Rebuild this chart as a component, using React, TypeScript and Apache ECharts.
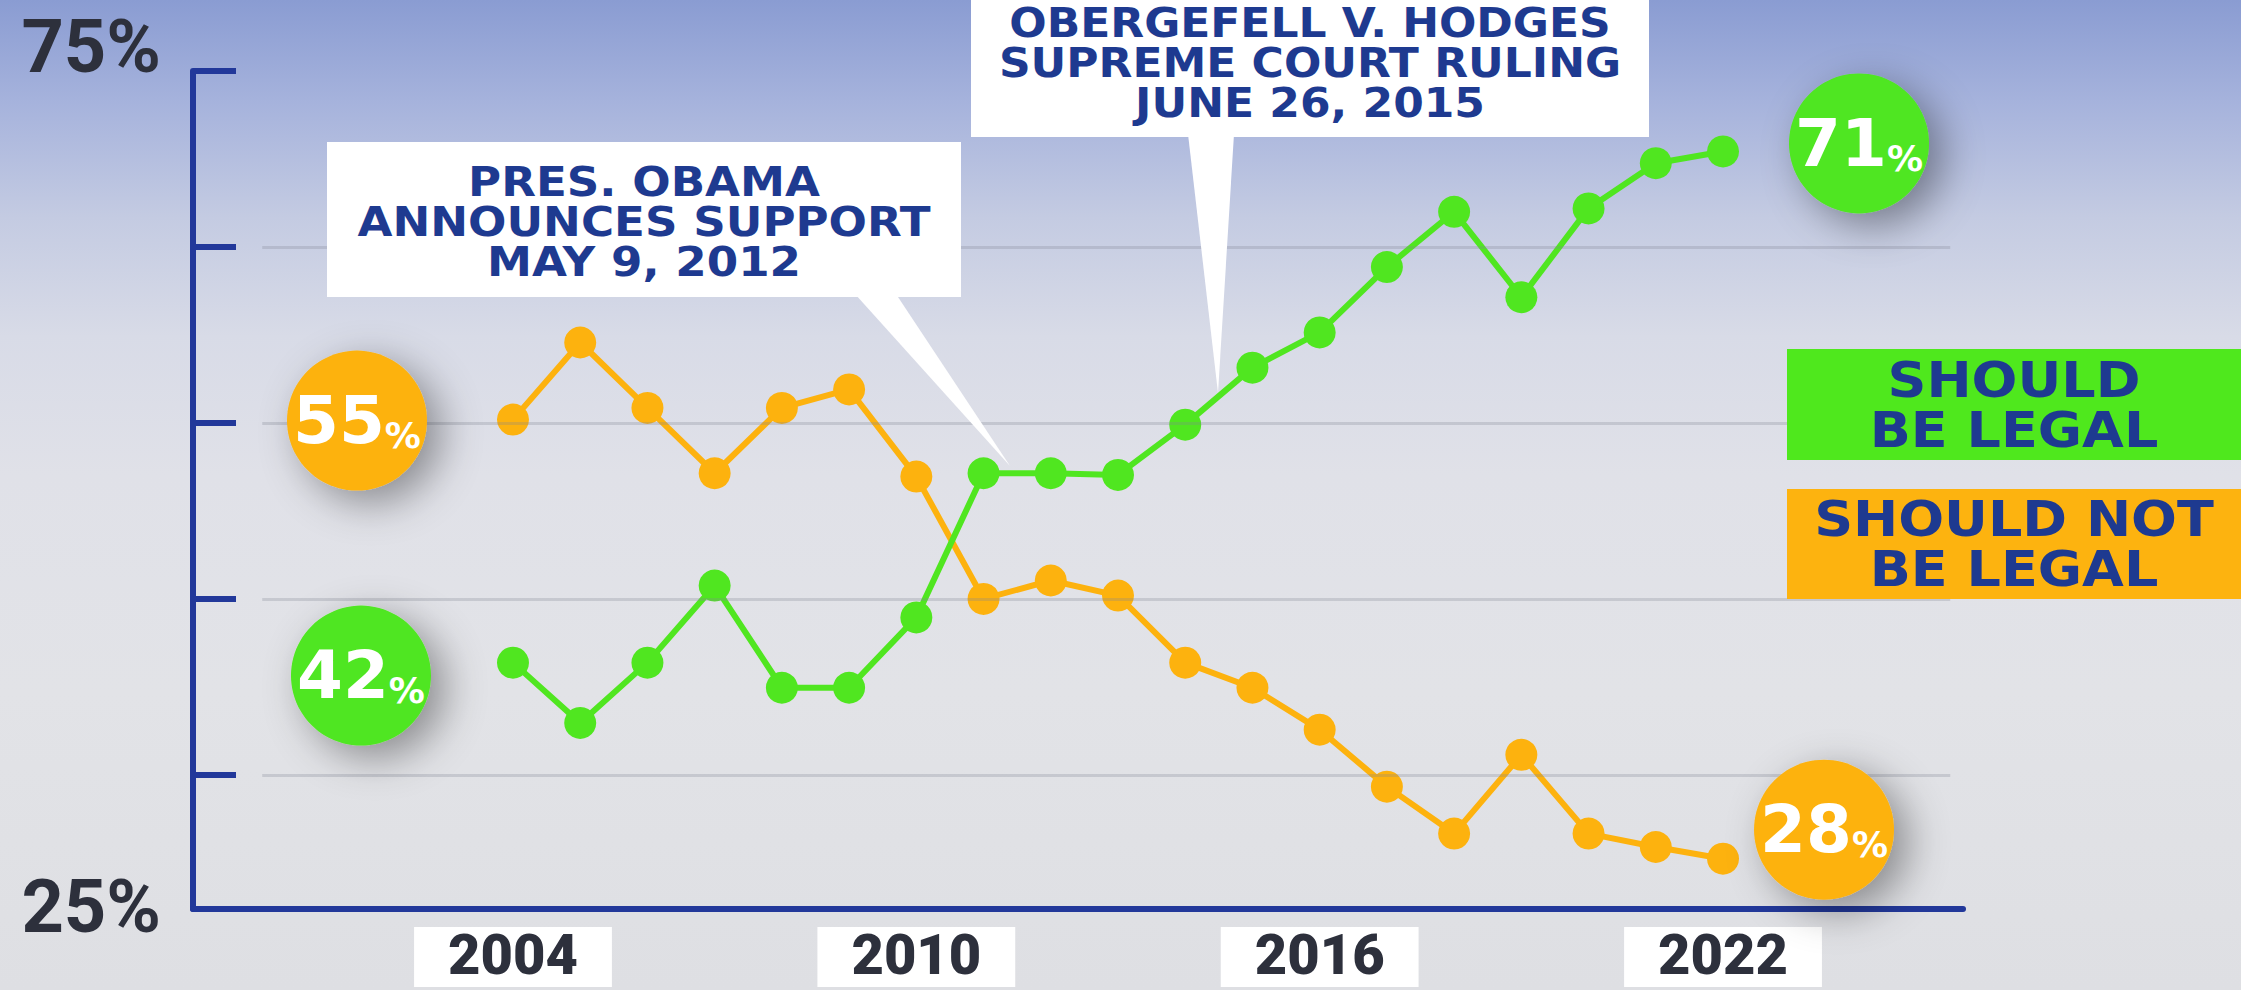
import React, { useEffect, useRef } from 'react';
import * as echarts from 'echarts';

// ---- data ----
const years = [2004, 2005, 2006, 2007, 2008, 2009, 2010, 2011, 2012, 2013, 2014, 2015, 2016, 2017, 2018, 2019, 2020, 2021, 2022];
const shouldBeLegal = [39.7, 36.1, 39.7, 44.3, 38.2, 38.2, 42.4, 51.0, 51.0, 50.9, 53.9, 57.3, 59.4, 63.3, 66.6, 61.5, 66.8, 69.5, 70.2];
const shouldNotBeLegal = [54.2, 58.8, 54.9, 51.0, 54.9, 56.0, 50.8, 43.5, 44.6, 43.7, 39.7, 38.2, 35.7, 32.3, 29.5, 34.2, 29.5, 28.7, 28.0];
const legalBadges = [42, 71];
const notLegalBadges = [55, 28];
const xLabelYears = [2004, 2010, 2016, 2022];
const yLabelValues = [25, 75];
const yTickValues = [33, 43.5, 54, 64.5, 75];
const gridLineValues = [33, 43.5, 54, 64.5];
const legendLabels = ['SHOULD\nBE LEGAL', 'SHOULD NOT\nBE LEGAL'];
const annotations = ['PRES. OBAMA\nANNOUNCES SUPPORT\nMAY 9, 2012', 'OBERGEFELL V. HODGES\nSUPREME COURT RULING\nJUNE 26, 2015'];

const GREEN = '#50e620';
const ORANGE = '#fdb20e';
const NAVY = '#22389a';
const TEXT_NAVY = '#1e3a90';
const DARK = '#2d303c';

const badgeLabel = {
  show: true,
  position: 'inside',
  formatter: (p: any) => `{n|${p.value}}{p|%}`,
  rich: {
    n: { fontFamily: 'DejaVu Sans', fontWeight: 'bold', fontSize: 66, color: '#fff', verticalAlign: 'bottom', lineHeight: 66 },
    p: { fontFamily: 'DejaVu Sans', fontWeight: 'bold', fontSize: 36, color: '#fff', verticalAlign: 'bottom', lineHeight: 56 },
  },
};

const badgeShadow = {
  shadowBlur: 40,
  shadowColor: 'rgba(0,0,0,0.38)',
  shadowOffsetX: 14,
  shadowOffsetY: 12,
};

const calloutFont = 'bold 40px "DejaVu Sans"';
const legendFont = 'bold 50px "DejaVu Sans"';

function buildOption(): any {
  const last = years.length - 1;
  return {
    animation: false,
    backgroundColor: 'transparent',
    grid: { left: 193, right: 278, top: 71, bottom: 81, containLabel: false, outerBoundsMode: 'none' },
    xAxis: {
      type: 'value',
      min: 1999.24,
      max: 2025.57,
      axisLine: { show: true, lineStyle: { color: NAVY, width: 6 } },
      axisTick: { show: false },
      splitLine: { show: false },
      axisLabel: {
        show: true,
        customValues: xLabelYears,
        formatter: (v: number) => String(v),
        fontFamily: 'Roboto',
        fontWeight: 900,
        fontSize: 56,
        lineHeight: 56,
        color: DARK,
        backgroundColor: '#ffffff',
        padding: [0, 34, 4, 34],
        margin: 18,
      },
    },
    yAxis: {
      type: 'value',
      min: 25,
      max: 75,
      axisLine: { show: true, lineStyle: { color: NAVY, width: 6 } },
      axisTick: { show: true, inside: true, length: 43, customValues: yTickValues, lineStyle: { color: NAVY, width: 6 } },
      splitLine: { show: false },
      axisLabel: {
        show: true,
        customValues: yLabelValues,
        margin: 32,
        formatter: (v: number) => (v === 75 ? `{top|${v}%}` : `{bot|${v}%}`),
        rich: {
          top: { fontFamily: 'Roboto', fontWeight: 'bold', fontSize: 74, color: DARK, padding: [0, 0, 50, 0] },
          bot: { fontFamily: 'Roboto', fontWeight: 'bold', fontSize: 74, color: DARK, padding: [0, 0, 6, 0] },
        },
      },
    },
    series: [
      {
        type: 'line',
        name: 'grid',
        data: [],
        z: 1,
        silent: true,
        markLine: {
          silent: true,
          symbol: ['none', 'none'],
          label: { show: false },
          lineStyle: { color: 'rgba(130,132,146,0.28)', width: 3, type: 'solid' },
          data: gridLineValues.map((v) => [{ coord: [2000.27, v] }, { coord: [2025.38, v] }]),
        },
      },
      {
        type: 'line',
        name: 'SHOULD NOT BE LEGAL',
        data: years.map((y, i) => [y, shouldNotBeLegal[i]]),
        z: 3,
        symbol: 'circle',
        symbolSize: 32,
        showSymbol: true,
        lineStyle: { color: ORANGE, width: 6 },
        itemStyle: { color: ORANGE },
        markPoint: {
          symbol: 'circle',
          symbolSize: 140,
          itemStyle: { color: ORANGE, ...badgeShadow },
          label: badgeLabel,
          data: [
            { coord: [years[0], shouldNotBeLegal[0]], value: notLegalBadges[0], symbolOffset: [-156, 1] },
            { coord: [years[last], shouldNotBeLegal[last]], value: notLegalBadges[1], symbolOffset: [101, -29] },
          ],
        },
      },
      {
        type: 'line',
        name: 'SHOULD BE LEGAL',
        data: years.map((y, i) => [y, shouldBeLegal[i]]),
        z: 4,
        symbol: 'circle',
        symbolSize: 32,
        showSymbol: true,
        lineStyle: { color: GREEN, width: 6 },
        itemStyle: { color: GREEN },
        markPoint: {
          symbol: 'circle',
          symbolSize: 140,
          itemStyle: { color: GREEN, ...badgeShadow },
          label: badgeLabel,
          data: [
            { coord: [years[0], shouldBeLegal[0]], value: legalBadges[0], symbolOffset: [-152, 13] },
            { coord: [years[last], shouldBeLegal[last]], value: legalBadges[1], symbolOffset: [136, -8] },
          ],
        },
      },
    ],
    graphic: [
      // Obama callout
      { type: 'polygon', z: 10, shape: { points: [[855, 294], [896, 294], [1010, 466]] }, style: { fill: '#ffffff' } },
      { type: 'rect', z: 10, shape: { x: 327, y: 142, width: 634, height: 155 }, style: { fill: '#ffffff' } },
      {
        type: 'text', z: 11, x: 644, y: 222, scaleX: 1.13,
        style: {
          text: annotations[0], fill: TEXT_NAVY, font: calloutFont,
          textAlign: 'center', textVerticalAlign: 'middle', lineHeight: 40,
        },
      },
      // Obergefell callout
      { type: 'polygon', z: 10, shape: { points: [[1188, 134], [1234, 134], [1218, 393]] }, style: { fill: '#ffffff' } },
      { type: 'rect', z: 10, shape: { x: 971, y: -10, width: 678, height: 147 }, style: { fill: '#ffffff' } },
      {
        type: 'text', z: 11, x: 1310, y: 63, scaleX: 1.1,
        style: {
          text: annotations[1], fill: TEXT_NAVY, font: calloutFont,
          textAlign: 'center', textVerticalAlign: 'middle', lineHeight: 40,
        },
      },
      // legend boxes
      { type: 'rect', z: 10, shape: { x: 1787, y: 349, width: 454, height: 111 }, style: { fill: '#4fe81d' } },
      {
        type: 'text', z: 11, x: 2014, y: 405, scaleX: 1.08,
        style: {
          text: legendLabels[0], fill: TEXT_NAVY, font: legendFont,
          textAlign: 'center', textVerticalAlign: 'middle', lineHeight: 50,
        },
      },
      { type: 'rect', z: 10, shape: { x: 1787, y: 489, width: 454, height: 110 }, style: { fill: '#fdb30f' } },
      {
        type: 'text', z: 11, x: 2014, y: 544, scaleX: 1.08,
        style: {
          text: legendLabels[1], fill: TEXT_NAVY, font: legendFont,
          textAlign: 'center', textVerticalAlign: 'middle', lineHeight: 50,
        },
      },
    ],
  };
}

export default function App() {
  const ref = useRef<HTMLDivElement>(null);
  useEffect(() => {
    document.body.style.margin = '0';
    const chart = echarts.init(ref.current as HTMLDivElement, null, { renderer: 'svg' });
    chart.setOption(buildOption());
    return () => chart.dispose();
  }, []);
  return (
    <div
      ref={ref}
      style={{
        position: 'absolute',
        left: 0,
        top: 0,
        width: 2241,
        height: 990,
        background:
          'linear-gradient(180deg, #8a9cd2 0%, #a5b2dc 10%, #c4cbe2 22%, #d8dbe7 34%, #e0e1e8 48%, #e2e3e7 70%, #dedfe3 100%)',
      }}
    />
  );
}
